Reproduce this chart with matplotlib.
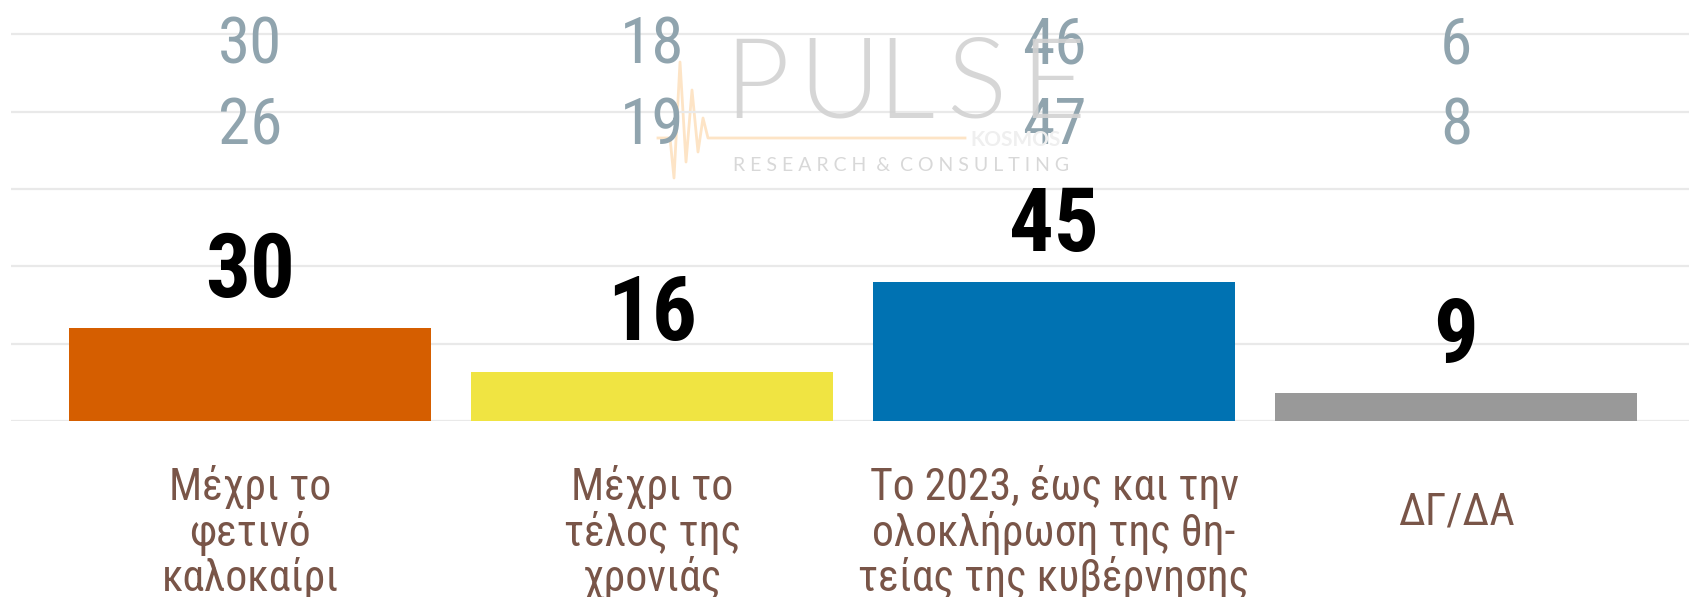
import matplotlib
matplotlib.use("Agg")
import matplotlib.pyplot as plt
from matplotlib import font_manager
from matplotlib.transforms import blended_transform_factory
from matplotlib.lines import Line2D

# data
categories = ["Μέχρι το\nφετινό\nκαλοκαίρι",
              "Μέχρι το\nτέλος της\nχρονιάς",
              "Το 2023, έως και την\nολοκλήρωση της θη-\nτείας της κυβέρνησης",
              "ΔΓ/ΔΑ"]
values = [30, 16, 45, 9]
prev_1 = [30, 18, 46, 6]
prev_2 = [26, 19, 47, 8]
colors = ["#d55e00", "#f0e442", "#0072b2", "#999999"]

names = {f.name for f in font_manager.fontManager.ttflist}
narrow = next((n for n in ["Roboto Condensed", "Fira Sans Condensed", "Barlow Condensed"]
               if n in names), "DejaVu Sans")
fam = [narrow, "DejaVu Sans"]
light = "Lato" if "Lato" in names else "DejaVu Sans"

W, H = 1690, 597
fig = plt.figure(figsize=(W / 100, H / 100), dpi=100)
ax = fig.add_axes([11 / W, 176 / H, 1 - 11 / W, 421 / H])

x = list(range(len(values)))
ax.bar(x, values, width=0.9, color=colors, zorder=3)
ax.set_xlim(-0.595, 3.582)
ax.set_ylim(0, 136.1)
for g in [0, 25, 50, 75, 100, 125]:
    ax.axhline(g, color="#e9e9e9", lw=1.6, zorder=1)
ax.axis("off")

for xi, v in zip(x, values):
    ax.annotate(str(v), (xi, v), xytext=(0, 22.5), textcoords="offset points",
                ha="center", va="baseline", fontsize=64, fontweight="bold",
                family=fam, color="black", zorder=5)

for xi, a, b in zip(x, prev_1, prev_2):
    ax.text(xi, 115.5, str(a), ha="center", va="baseline", fontsize=47,
            family=fam, color="#90a4ae", zorder=6)
    ax.text(xi, 89.4, str(b), ha="center", va="baseline", fontsize=47,
            family=fam, color="#90a4ae", zorder=6)

tr = blended_transform_factory(ax.transData, fig.transFigure)
for xi, lab in zip(x, categories):
    y = 0.108 if "\n" in lab else 0.142
    ax.text(xi, y, lab, transform=tr, ha="center", va="center", fontsize=31.5,
            family=fam, color="#795548", linespacing=1.04, clip_on=False)

# watermark
for ch, lx in zip("PULSE", [724, 798, 877, 946, 1020]):
    fig.text(lx / W, 1 - 118 / H, ch, fontsize=81, family=light, fontweight=300,
             color="#d2d2d2", alpha=0.9, ha="left", va="baseline", zorder=0)
fig.text(733 / W, 1 - 171 / H, "R E S E A R C H  &  C O N S U L T I N G", fontsize=14,
         family=light, color="#d8d8d8", ha="left", va="baseline", zorder=0)
fig.text(970 / W, 1 - 146 / H, "KOSMOS", fontsize=15, fontweight="bold",
         family=light, color="#efefef", ha="left", va="baseline", zorder=0)
px = [658, 670, 674, 680, 686, 692, 698, 703, 708, 965]
py = [138, 138, 178, 62, 162, 90, 152, 118, 138, 138]
fig.add_artist(Line2D([p / W for p in px], [1 - p / H for p in py],
                      transform=fig.transFigure, color="#fde4c6", lw=2, zorder=0))

fig.savefig("out.png", dpi=100)
